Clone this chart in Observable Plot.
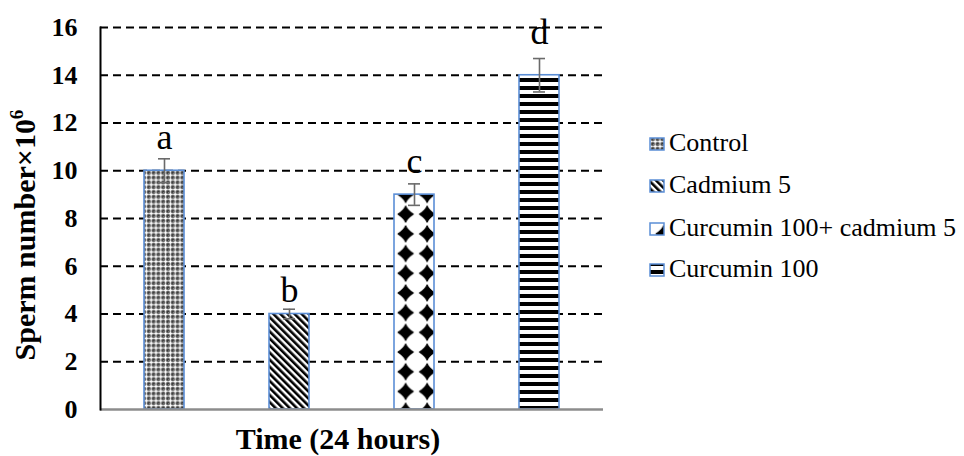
<!DOCTYPE html>
<html><head><meta charset="utf-8">
<script src="https://cdn.jsdelivr.net/npm/d3@7"></script>
<script src="https://cdn.jsdelivr.net/npm/@observablehq/plot@0.6"></script>
<style>
body{margin:0;background:#fff}
#chart{position:relative;width:964px;height:456px}
</style>
</head><body><div id="chart"></div>
<script>
// ---- data ----
const series = ["Control", "Cadmium 5", "Curcumin 100+ cadmium 5", "Curcumin 100"];
const values = [10, 4, 9, 14];
const errors = [0.5, 0.2, 0.45, 0.7];
const letters = ["a", "b", "c", "d"];
const letterY = [10.9, 4.5, 9.9, 15.3];
const yTicks = [0, 2, 4, 6, 8, 10, 12, 14, 16];
const yGrid = [2, 4, 6, 8, 10, 12, 14, 16];
const yLabel = "Sperm number×10";
const yLabelSup = "6";
const xLabel = "Time (24 hours)";

const data = series.map((s, i) => ({series: s, value: values[i], err: errors[i], letter: letters[i], ly: letterY[i], idx: i}));
const patternIds = ["patCtrl", "patCad", "patCurCad", "patCur"];
const outline = "#5b8ed6";
const errColor = "#6a6a6a";
const serif = '"Liberation Serif", "Times New Roman", serif';

const svg = Plot.plot({
  width: 964, height: 456,
  marginLeft: 100, marginRight: 361, marginTop: 27, marginBottom: 47,
  style: {fontFamily: serif, background: "white"},
  x: {type: "band", domain: series, paddingInner: 0.68, paddingOuter: 0.34, axis: null},
  y: {domain: [0, 16], axis: null},
  color: {type: "identity"},
  marks: [
    Plot.gridY(yGrid, {stroke: "black", strokeOpacity: 1, strokeWidth: 2, strokeDasharray: "8,5"}),
    Plot.barY(data, {x: "series", y: "value", fill: d => `url(#${patternIds[d.idx]})`, stroke: outline, strokeWidth: 1.6}),
    Plot.ruleX(data, {x: "series", y1: d => d.value - d.err, y2: d => d.value + d.err, stroke: errColor, strokeWidth: 1.6}),
    Plot.tickY(data, {x: "series", y: d => d.value + d.err, insetLeft: 14, insetRight: 14, stroke: errColor, strokeWidth: 1.6}),
    Plot.tickY(data, {x: "series", y: d => d.value - d.err, insetLeft: 14, insetRight: 14, stroke: errColor, strokeWidth: 1.6}),
    Plot.text(data, {x: "series", y: "ly", text: "letter", fontSize: 36, fontFamily: serif, fill: "black", dy: -11.5}),
    Plot.ruleY([0], {stroke: "#8c8c8c", strokeWidth: 2.5}),
    Plot.frame({anchor: "left", stroke: "black", strokeWidth: 2}),
    Plot.axisY(yTicks, {tickSize: 0, tickPadding: 23, fontSize: 26, fontWeight: "bold", fontFamily: serif, fill: "black", label: null})
  ]
});

const s = d3.select(svg);
s.style("font-family", serif);
s.selectAll('g[aria-label="y-axis tick label"]').attr("font-size", 26).attr("font-weight", "bold").attr("font-family", serif);

const defs = s.insert("defs", ":first-child");
// Control: crosshatch with white crosses
const p0 = defs.append("pattern").attr("id", "patCtrl").attr("patternUnits", "userSpaceOnUse").attr("width", 4.8).attr("height", 4.8);
p0.append("rect").attr("width", 4.8).attr("height", 4.8).attr("fill", "#3a3a3a");
p0.append("rect").attr("x", 1.65).attr("y", 0.2).attr("width", 1.5).attr("height", 4.4).attr("fill", "#fff");
p0.append("rect").attr("x", 0.2).attr("y", 1.65).attr("width", 4.4).attr("height", 1.5).attr("fill", "#fff");
p0.append("rect").attr("x", 0).attr("y", 0).attr("width", 0.9).attr("height", 0.9).attr("fill", "#888");
// Cadmium: diagonal stripes (\)
const p1 = defs.append("pattern").attr("id", "patCad").attr("patternUnits", "userSpaceOnUse").attr("width", 5).attr("height", 5).attr("patternTransform", "rotate(-45)");
p1.append("rect").attr("width", 5).attr("height", 5).attr("fill", "#fff");
p1.append("rect").attr("width", 2.6).attr("height", 5).attr("fill", "#000");
// Curcumin + cadmium: large black diamonds
const p2 = defs.append("pattern").attr("id", "patCurCad").attr("patternUnits", "userSpaceOnUse").attr("width", 21.5).attr("height", 19.7).attr("x", 394.9).attr("y", 283.1);
p2.append("rect").attr("width", 21.5).attr("height", 19.7).attr("fill", "#fff");
p2.append("path").attr("d", "M10.75,1.8 Q12,5.5 18.3,9.85 Q12,14.2 10.75,17.9 Q9.5,14.2 3.2,9.85 Q9.5,5.5 10.75,1.8Z")
  .attr("fill", "#000").attr("stroke", "#000").attr("stroke-width", 1.2).attr("stroke-linejoin", "round");
// Curcumin 100: horizontal stripes
const p3 = defs.append("pattern").attr("id", "patCur").attr("patternUnits", "userSpaceOnUse").attr("width", 8).attr("height", 8).attr("y", 75);
p3.append("rect").attr("width", 8).attr("height", 8).attr("fill", "#fff");
p3.append("rect").attr("y", 3).attr("width", 8).attr("height", 4).attr("fill", "#000");

// Axis titles
const yl = s.append("text").attr("transform", "translate(35,235) rotate(-90)").attr("text-anchor", "middle")
  .attr("font-family", serif).attr("font-size", 30).attr("font-weight", "bold").attr("fill", "black").text(yLabel);
yl.append("tspan").attr("font-size", 19).attr("dy", -12).text(yLabelSup);
s.append("text").attr("x", 338).attr("y", 449).attr("text-anchor", "middle")
  .attr("font-family", serif).attr("font-size", 30).attr("font-weight", "bold").attr("fill", "black").text(xLabel);

// Legend
const baselines = [151, 193, 236, 277];
series.forEach((name, i) => {
  const g = s.append("g").attr("text-anchor", "start");
  g.append("rect").attr("x", 650).attr("y", baselines[i] - 13).attr("width", 14).attr("height", 12)
    .attr("fill", `url(#${patternIds[i]})`).attr("stroke", outline).attr("stroke-width", 1.5);
  g.append("text").attr("x", 669).attr("y", baselines[i]).attr("text-anchor", "start")
    .attr("font-family", serif).attr("font-size", 26).attr("fill", "black").text(name);
});

document.getElementById("chart").appendChild(svg);
</script>
</body></html>
